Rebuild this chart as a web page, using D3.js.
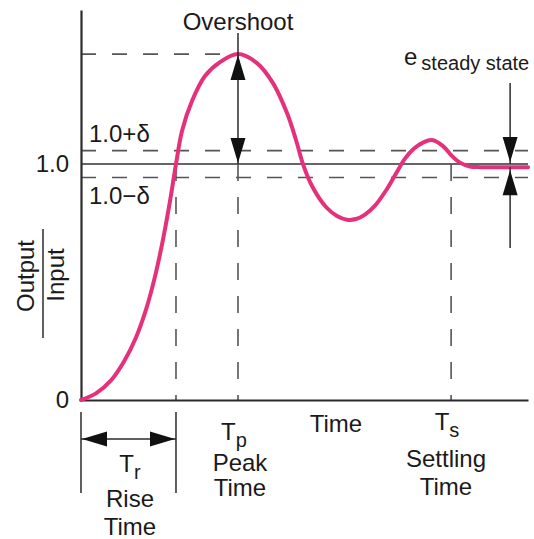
<!DOCTYPE html>
<html>
<head>
<meta charset="utf-8">
<script src="https://cdn.jsdelivr.net/npm/d3@7"></script>
<style>
  body { margin: 0; background: #fff; }
  text { font-family: "Liberation Sans", Arial, Helvetica, sans-serif; fill: #1a1a1a; }
</style>
</head>
<body>
<div id="chart"></div>
<script>
// data
const timeVals = [0, 0.336, 0.671, 0.962, 1.230, 1.454, 1.655, 1.834, 1.991, 2.125, 2.260, 2.483,
  2.774, 3.110, 3.512, 3.937, 4.295, 4.609, 4.810, 4.966, 5.168, 5.481, 5.727, 5.951, 6.152,
  6.353, 6.577, 6.823, 7.047, 7.248, 7.450, 7.651, 7.852, 8.098, 8.300, 8.479, 8.702, 8.926, 10];
const outputVals = [0, 0.028, 0.083, 0.163, 0.265, 0.383, 0.523, 0.680, 0.843, 1.0, 1.140, 1.267,
  1.373, 1.432, 1.466, 1.428, 1.343, 1.216, 1.102, 1.0, 0.907, 0.818, 0.780, 0.764, 0.767,
  0.786, 0.824, 0.888, 0.960, 1.023, 1.066, 1.091, 1.102, 1.076, 1.034, 1.006, 0.989, 0.987, 0.987];

const finalValue = 1.0;
const delta = 0.057;
const peakValue = 1.466;
const steadyValue = 0.987;
const riseTime = 2.125, peakTime = 3.512, settleTime = 8.28, errTime = 9.6, endTime = 10;
const yTicks = [0, 1];
const yTickLabels = ['0', '1.0'];

// 0. canvas
const W = 534, H = 539;
const svg = d3.select('#chart').append('svg').attr('width', W).attr('height', H);

const x = d3.scaleLinear().domain([0, endTime]).range([81, 528]);
const y = d3.scaleLinear().domain([0, 1.653]).range([400, 10]);

const ink = '#2b2b2b', dashInk = '#555';
const pts = timeVals.map((t, i) => ({ t, v: outputVals[i] }));

// 1. reference lines
const hDash = (v, t0, t1) => svg.append('line')
  .attr('x1', x(t0)).attr('x2', x(t1)).attr('y1', y(v)).attr('y2', y(v))
  .attr('stroke', dashInk).attr('stroke-width', 1.6).attr('stroke-dasharray', '15,16');
hDash(peakValue, 0, peakTime);
hDash(finalValue + delta, 0, endTime);
hDash(finalValue - delta, 0, endTime);

svg.append('line')
  .attr('x1', x(0)).attr('x2', x(endTime)).attr('y1', y(finalValue)).attr('y2', y(finalValue))
  .attr('stroke', '#333').attr('stroke-width', 1.4);

[riseTime, peakTime, settleTime].forEach(t => {
  svg.append('line')
    .attr('x1', x(t)).attr('x2', x(t)).attr('y1', y(finalValue)).attr('y2', y(0))
    .attr('stroke', dashInk).attr('stroke-width', 1.6).attr('stroke-dasharray', '17,16');
});

// 2. axes
svg.append('g')
  .attr('transform', `translate(0,${y(0)})`)
  .call(d3.axisBottom(x).tickValues([]).tickSizeOuter(0))
  .call(g => g.select('.domain').attr('stroke', ink).attr('stroke-width', 2.2));

svg.append('g')
  .attr('transform', `translate(${x(0)},0)`)
  .call(d3.axisLeft(y).tickValues(yTicks).tickFormat((d, i) => yTickLabels[i])
    .tickSize(0).tickPadding(12).tickSizeOuter(0))
  .call(g => g.select('.domain').attr('stroke', ink).attr('stroke-width', 2.2))
  .call(g => g.selectAll('text').attr('font-size', 24).attr('fill', '#1a1a1a')
    .attr('font-family', '"Liberation Sans", Arial, sans-serif'));

// 3. response curve
svg.append('path')
  .datum(pts)
  .attr('fill', 'none')
  .attr('stroke', '#e5307c')
  .attr('stroke-width', 4)
  .attr('stroke-linecap', 'round')
  .attr('d', d3.line().x(d => x(d.t)).y(d => y(d.v)).curve(d3.curveCatmullRom.alpha(0.5)));

// 4. arrows
function head(tx, ty, dir) { // dir: 'up','down','left','right'
  const L = 25, w = 7.5;
  let p;
  if (dir === 'up') p = [[tx, ty], [tx - w, ty + L], [tx + w, ty + L]];
  if (dir === 'down') p = [[tx, ty], [tx - w, ty - L], [tx + w, ty - L]];
  if (dir === 'left') p = [[tx, ty], [tx + L, ty - w], [tx + L, ty + w]];
  if (dir === 'right') p = [[tx, ty], [tx - L, ty - w], [tx - L, ty + w]];
  svg.append('path').attr('d', 'M' + p.join('L') + 'Z').attr('fill', '#111');
}
function seg(x1, y1, x2, y2) {
  svg.append('line').attr('x1', x1).attr('y1', y1).attr('x2', x2).attr('y2', y2)
    .attr('stroke', ink).attr('stroke-width', 1.5);
}
// overshoot
seg(x(peakTime), 33, x(peakTime), y(finalValue));
head(x(peakTime), y(peakValue) + 1, 'up');
head(x(peakTime), y(finalValue) - 1, 'down');
// steady-state error
seg(x(errTime), 83, x(errTime), y(finalValue));
head(x(errTime), y(finalValue) - 2, 'down');
seg(x(errTime), y(steadyValue), x(errTime), 248);
head(x(errTime), y(steadyValue) + 3, 'up');
// rise time
seg(x(0), 412, x(0), 493);
seg(x(riseTime), 412, x(riseTime), 493);
seg(x(0), 439, x(riseTime), 439);
head(x(0) + 1, 439, 'left');
head(x(riseTime) - 1, 439, 'right');

// 5. labels
const label = (tx, ty, str, size, anchor) => svg.append('text')
  .attr('x', tx).attr('y', ty).attr('font-size', size || 24)
  .attr('text-anchor', anchor || 'middle').text(str);

label(238, 30, 'Overshoot');
const e = svg.append('text').attr('x', 404).attr('y', 65).attr('font-size', 24);
e.append('tspan').text('e');
e.append('tspan').attr('font-size', 20).attr('dx', 4).attr('dy', 5).text('steady state');

label(89, 142, '1.0+δ', 24, 'start');
label(89, 204, '1.0−δ', 24, 'start');

svg.append('text').attr('transform', 'translate(34,276) rotate(-90)')
  .attr('text-anchor', 'middle').attr('font-size', 24).text('Output');
svg.append('line').attr('x1', 43).attr('x2', 43).attr('y1', 229).attr('y2', 338)
  .attr('stroke', ink).attr('stroke-width', 1.5);
svg.append('text').attr('transform', 'translate(64,275) rotate(-90)')
  .attr('text-anchor', 'middle').attr('font-size', 24).text('Input');

function subT(cx, by, sub) {
  const t = svg.append('text').attr('x', cx).attr('y', by).attr('font-size', 24)
    .attr('text-anchor', 'middle');
  t.append('tspan').text('T');
  t.append('tspan').attr('font-size', 20).attr('dy', 7).text(sub);
}
subT(130, 472, 'r');
label(130, 507, 'Rise');
label(130, 535, 'Time');

subT(234, 440, 'p');
label(240, 471, 'Peak');
label(240, 496, 'Time');

label(336, 432, 'Time');

subT(447, 430, 's');
label(446, 467, 'Settling');
label(446, 495, 'Time');
</script>
</body>
</html>
